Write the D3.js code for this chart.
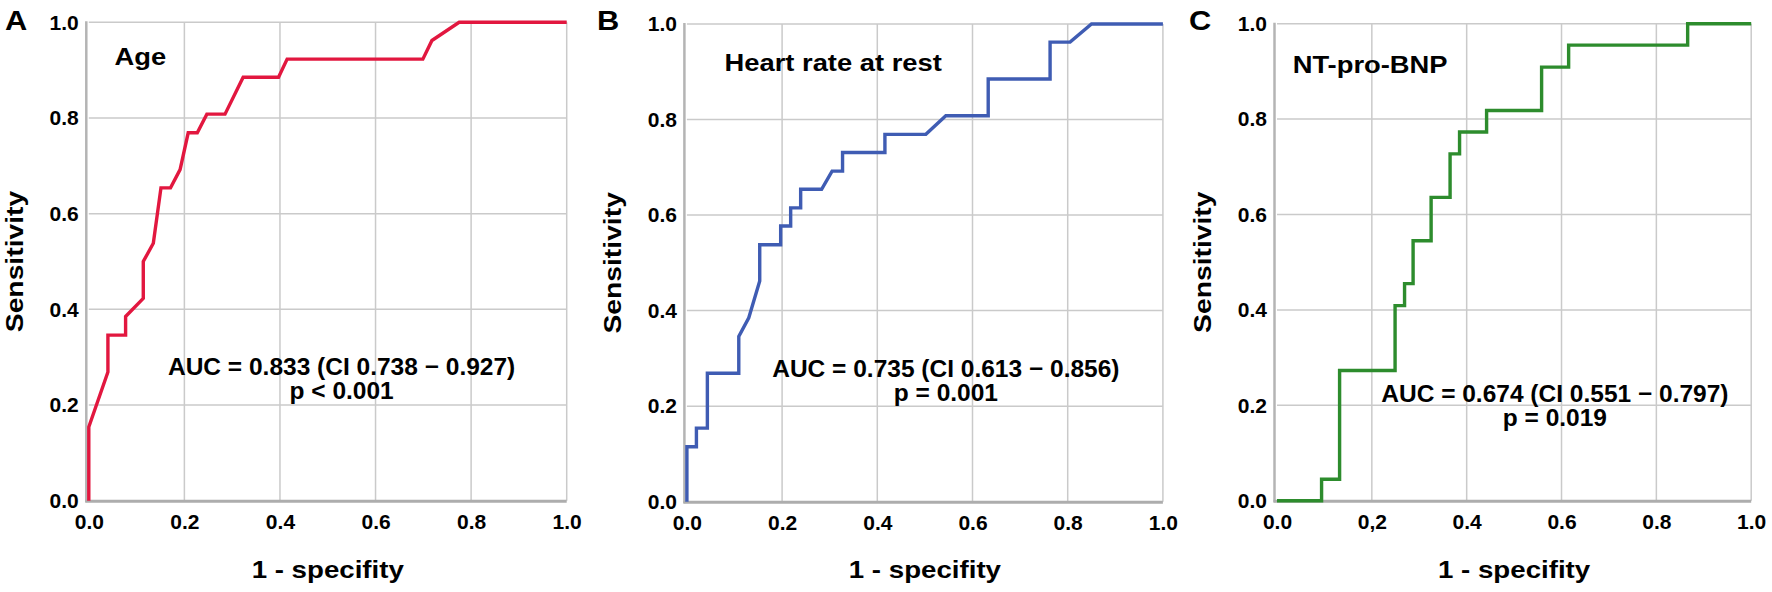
<!DOCTYPE html>
<html>
<head>
<meta charset="utf-8">
<script src="https://cdn.jsdelivr.net/npm/d3@7"></script>
<style>
  body { margin: 0; background: #fff; }
  svg { display: block; }
  text { font-family: "Liberation Sans", Arial, sans-serif; font-weight: bold; fill: #000; }
</style>
</head>
<body>
<svg id="chart" width="1772" height="592"></svg>
<script>
// ticks
const tickValues = [0, 0.2, 0.4, 0.6, 0.8, 1.0];
const yTickLabels = ["0.0", "0.2", "0.4", "0.6", "0.8", "1.0"];
const xTickLabelsAB = ["0.0", "0.2", "0.4", "0.6", "0.8", "1.0"];
const xTickLabelsC = ["0.0", "0,2", "0.4", "0.6", "0.8", "1.0"];

// ROC curves (1 - specificity, sensitivity)
const ageFpr = [0, 0, 0.040, 0.040, 0.077, 0.077, 0.114, 0.114, 0.135, 0.151, 0.171, 0.191, 0.208, 0.227, 0.247, 0.285, 0.323, 0.397, 0.415, 0.699, 0.718, 0.775, 1];
const ageTpr = [0, 0.154, 0.269, 0.346, 0.346, 0.385, 0.423, 0.500, 0.538, 0.654, 0.654, 0.692, 0.769, 0.769, 0.808, 0.808, 0.885, 0.885, 0.923, 0.923, 0.962, 1, 1];

const hrFpr = [0, 0, 0.020, 0.020, 0.043, 0.043, 0.109, 0.109, 0.130, 0.153, 0.153, 0.197, 0.197, 0.218, 0.218, 0.239, 0.239, 0.283, 0.305, 0.327, 0.327, 0.416, 0.416, 0.502, 0.544, 0.633, 0.633, 0.763, 0.763, 0.805, 0.850, 1];
const hrTpr = [0, 0.115, 0.115, 0.154, 0.154, 0.269, 0.269, 0.346, 0.385, 0.462, 0.538, 0.538, 0.577, 0.577, 0.615, 0.615, 0.654, 0.654, 0.692, 0.692, 0.731, 0.731, 0.769, 0.769, 0.808, 0.808, 0.885, 0.885, 0.962, 0.962, 1, 1];

const bnpFpr = [0, 0.094, 0.094, 0.132, 0.132, 0.249, 0.249, 0.269, 0.269, 0.287, 0.287, 0.325, 0.325, 0.365, 0.365, 0.385, 0.385, 0.442, 0.442, 0.558, 0.558, 0.615, 0.615, 0.866, 0.866, 1];
const bnpTpr = [0, 0, 0.045, 0.045, 0.273, 0.273, 0.409, 0.409, 0.455, 0.455, 0.545, 0.545, 0.636, 0.636, 0.727, 0.727, 0.773, 0.773, 0.818, 0.818, 0.909, 0.909, 0.955, 0.955, 1, 1];

const panelLetters = ["A", "B", "C"];
const markerNames = ["Age", "Heart rate at rest", "NT-pro-BNP"];
const aucTexts = ["AUC = 0.833 (CI 0.738 \u2212 0.927)", "AUC = 0.735 (CI 0.613 \u2212 0.856)", "AUC = 0.674 (CI 0.551 \u2212 0.797)"];
const pTexts = ["p < 0.001", "p = 0.001", "p = 0.019"];
const lineColors = ["#e2173f", "#3f5cb3", "#2d8c2d"];
const xLabel = "1 - specifity";
const yLabel = "Sensitivity";

const fprs = [ageFpr, hrFpr, bnpFpr];
const tprs = [ageTpr, hrTpr, bnpTpr];
const xTicks = [xTickLabelsAB, xTickLabelsAB, xTickLabelsC];

// layout of the three plot boxes
const boxes = [
  {l: 88.8, r: 566.7, t: 22.3, b: 500.7, letterX: 5, name: [0.054, 0.911], auc: [0.529, 0.263]},
  {l: 686.9, r: 1162.9, t: 24, b: 501.7, letterX: 597, name: [0.079, 0.902], auc: [0.544, 0.262]},
  {l: 1277, r: 1751.2, t: 23.7, b: 500.7, letterX: 1189, name: [0.033, 0.896], auc: [0.586, 0.2075]}
];

const svg = d3.select("#chart");
svg.append("rect").attr("width", 1772).attr("height", 592).attr("fill", "#fff");

function label(g, x, y, txt, size, anchor, sx, rot) {
  return g.append("text")
    .attr("transform", `translate(${x},${y}) rotate(${rot || 0}) scale(${sx || 1},1)`)
    .attr("text-anchor", anchor || "start")
    .style("font-size", size + "px")
    .text(txt);
}

boxes.forEach((box, i) => {
  const x = d3.scaleLinear([0, 1], [box.l, box.r]);
  const y = d3.scaleLinear([0, 1], [box.b, box.t]);
  const g = svg.append("g");

  // grid
  g.append("g").selectAll("line.v")
    .data(tickValues.slice(1))
    .join("line")
    .attr("x1", d => x(d)).attr("x2", d => x(d))
    .attr("y1", y(0)).attr("y2", y(1))
    .attr("stroke", "#cacaca").attr("stroke-width", 1.5);
  g.append("g").selectAll("line.h")
    .data(tickValues.slice(1))
    .join("line")
    .attr("x1", x(0)).attr("x2", x(1))
    .attr("y1", d => y(d)).attr("y2", d => y(d))
    .attr("stroke", "#cacaca").attr("stroke-width", 1.5);

  // axis lines
  g.append("line")
    .attr("x1", x(0) - 2.5).attr("x2", x(0) - 2.5)
    .attr("y1", y(1) - 1).attr("y2", y(0) + 1.5)
    .attr("stroke", "#b4b4b4").attr("stroke-width", 2.5);
  g.append("line")
    .attr("x1", x(0) - 3.5).attr("x2", x(1))
    .attr("y1", y(0) + 0.5).attr("y2", y(0) + 0.5)
    .attr("stroke", "#adadad").attr("stroke-width", 3);

  // tick labels
  const yAxis = d3.axisLeft(y).tickValues(tickValues).tickSize(0).tickPadding(10)
    .tickFormat((d, k) => yTickLabels[k]);
  const ya = g.append("g").attr("transform", `translate(${x(0)},0)`).call(yAxis);
  const xAxis = d3.axisBottom(x).tickValues(tickValues).tickSize(0).tickPadding(13)
    .tickFormat((d, k) => xTicks[i][k]);
  const xa = g.append("g").attr("transform", `translate(0,${y(0)})`).call(xAxis);
  [ya, xa].forEach(a => {
    a.select(".domain").remove();
    a.selectAll("text")
      .style("font-size", "21px")
      .style("font-family", '"Liberation Sans", Arial, sans-serif')
      .style("font-weight", "bold")
      .attr("fill", "#000");
  });

  // curve
  const pts = fprs[i].map((f, k) => [f, tprs[i][k]]);
  g.append("path")
    .datum(pts)
    .attr("fill", "none")
    .attr("stroke", lineColors[i])
    .attr("stroke-width", 3.4)
    .attr("stroke-linejoin", "miter")
    .attr("d", d3.line().x(d => x(d[0])).y(d => y(d[1])));

  // texts
  label(g, box.letterX, 30, panelLetters[i], 28, "start", 1.1);
  label(g, x(box.name[0]), y(box.name[1]), markerNames[i], 24, "start", 1.14);
  label(g, x(box.auc[0]), y(box.auc[1]), aucTexts[i], 24.5, "middle", 1);
  label(g, x(box.auc[0]), y(box.auc[1]) + 24, pTexts[i], 24.5, "middle", 1);
  label(g, (x(0) + x(1)) / 2, 577.5, xLabel, 24.5, "middle", 1.13);
  label(g, x(0) - 66, (y(0) + y(1)) / 2, yLabel, 23, "middle", 1.23, -90);
});
</script>
</body>
</html>
